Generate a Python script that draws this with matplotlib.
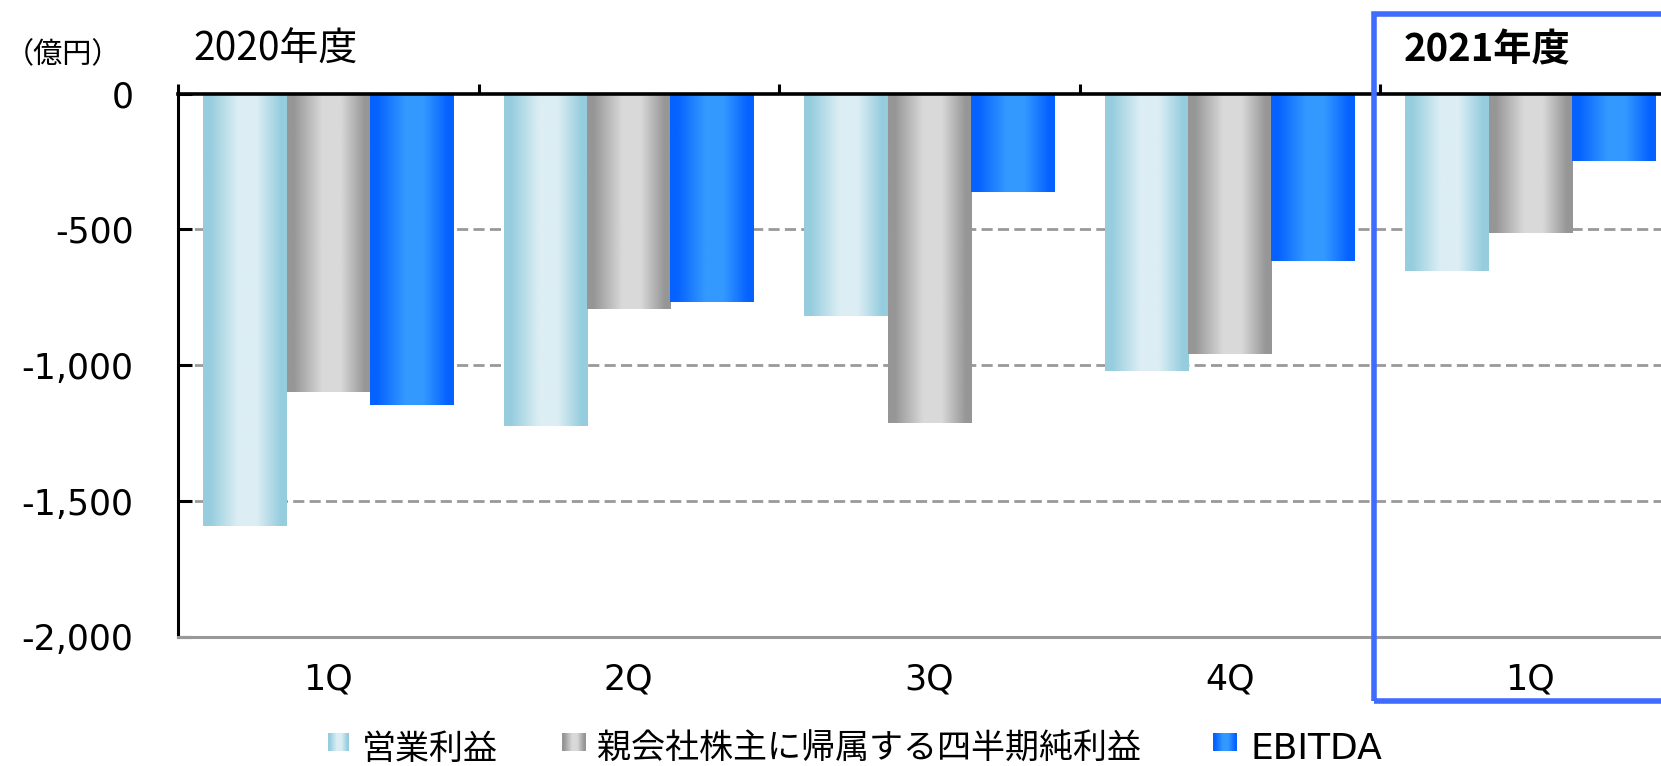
import numpy as np
import matplotlib
matplotlib.use('Agg')
import matplotlib.pyplot as plt
from matplotlib.patches import Rectangle

plt.rcParams['font.family'] = ['DejaVu Sans', 'Noto Sans CJK JP']

# data (億円)
quarters = ['1Q', '2Q', '3Q', '4Q', '1Q']
operating_income = [-1590, -1222, -818, -1020, -652]
net_income = [-1097, -792, -1211, -957, -512]
ebitda = [-1145, -767, -361, -615, -247]
series_names = ['営業利益', '親会社株主に帰属する四半期純利益', 'EBITDA']
y_ticks = [0, -500, -1000, -1500, -2000]

W, H = 1661, 766
fig = plt.figure(figsize=(W / 100, H / 100), dpi=100)


def px(x, y, w=0, h=0):
    # pixel box (from top-left) -> figure fraction [l, b, w, h]
    return [x / W, 1 - (y + h) / H, w / W, h / H]


def gradient(edge, center, n=256):
    stops = [0, 0.08, 0.42, 0.64, 0.93, 1]
    cols = [edge, edge, center, center, edge, edge]
    t = np.linspace(0, 1, n)
    rgb = np.array([[np.interp(v, stops, [c[k] for c in cols]) for k in range(3)] for v in t])
    return (rgb / 255.0)[np.newaxis, :, :]


grads = [
    gradient((150, 205, 222), (220, 238, 244)),
    gradient((150, 150, 150), (217, 217, 217)),
    gradient((5, 98, 255), (51, 153, 255)),
]

# axes: 0 at y=93.5px, -2000 at y=637px, categories 300.5px wide
ax = fig.add_axes(px(178, 93.5, 300.5 * 5, 637 - 93.5))

x = np.arange(len(quarters))
bw = 0.277
for i, vals in enumerate([operating_income, net_income, ebitda]):
    bars = ax.bar(x + (i - 1) * bw, vals, width=bw, facecolor='none',
                  edgecolor='none', zorder=2)
    for r in bars:
        x0, w, h = r.get_x(), r.get_width(), r.get_height()
        ax.imshow(grads[i], extent=(x0, x0 + w, h, 0), aspect='auto',
                  interpolation='bilinear', zorder=2)

ax.set_xlim(-0.5, len(quarters) - 0.5)
ax.set_ylim(-2000, 0)

for v in y_ticks[1:-1]:
    ax.axhline(v, color='#999999', lw=2.0, linestyle=(0, (4, 1.9)), zorder=1)

ax.set_yticks(y_ticks)
ax.set_yticklabels(['{:,}'.format(v) for v in y_ticks])
ax.tick_params(axis='y', direction='in', length=10, width=2.2, color='black',
               labelsize=25, pad=32)

ax.set_xticks(x)
ax.set_xticklabels(quarters)
ax.tick_params(axis='x', bottom=False, length=0, labelsize=25, pad=18)

# boundary ticks on the zero line
ax.set_xticks(np.arange(-0.5, len(quarters)), minor=True)
ax.tick_params(axis='x', which='minor', top=True, bottom=False, direction='out',
               length=7, width=2.2, color='black')

ax.spines['right'].set_visible(False)
ax.spines['top'].set_color('black')
ax.spines['top'].set_linewidth(2.6)
ax.spines['left'].set_color('black')
ax.spines['left'].set_linewidth(2.2)
ax.spines['bottom'].set_color('#999999')
ax.spines['bottom'].set_linewidth(2.2)

cjk = ['Noto Sans CJK JP', 'DejaVu Sans']

# header texts
fig.text(63 / W, 1 - 55 / H, '（億円）', family=cjk, fontsize=21,
         ha='center', va='center')
fig.text(193 / W, 1 - 50 / H, '2020年度', family=cjk, fontsize=28,
         ha='left', va='center')
fig.text(1404 / W, 1 - 50 / H, '2021年度', family=cjk, fontsize=27.5,
         fontweight='bold', ha='left', va='center')

# 2021 highlight box
fig.patches.append(Rectangle((1374 / W, 1 - 701 / H), 400 / W, (701 - 14) / H,
                             transform=fig.transFigure, fill=False,
                             edgecolor='#3F6BFF', lw=4, zorder=5))

# legend
legend_items = [(328, 21, 362), (562, 24, 597), (1213, 24, 1250)]
for (lx, lw_, tx), name, g in zip(legend_items, series_names, grads):
    lax = fig.add_axes(px(lx, 733, lw_, 18))
    lax.imshow(g, aspect='auto', extent=(0, 1, 0, 1))
    lax.set_axis_off()
    if name == 'EBITDA':
        fig.text(tx / W, 1 - 759 / H, name, family='DejaVu Sans',
                 fontsize=26, ha='left', va='baseline')
    else:
        fig.text(tx / W, 1 - 759 / H, name, family=cjk,
                 fontsize=24.5, ha='left', va='baseline')

fig.savefig('out.png', dpi=100)
